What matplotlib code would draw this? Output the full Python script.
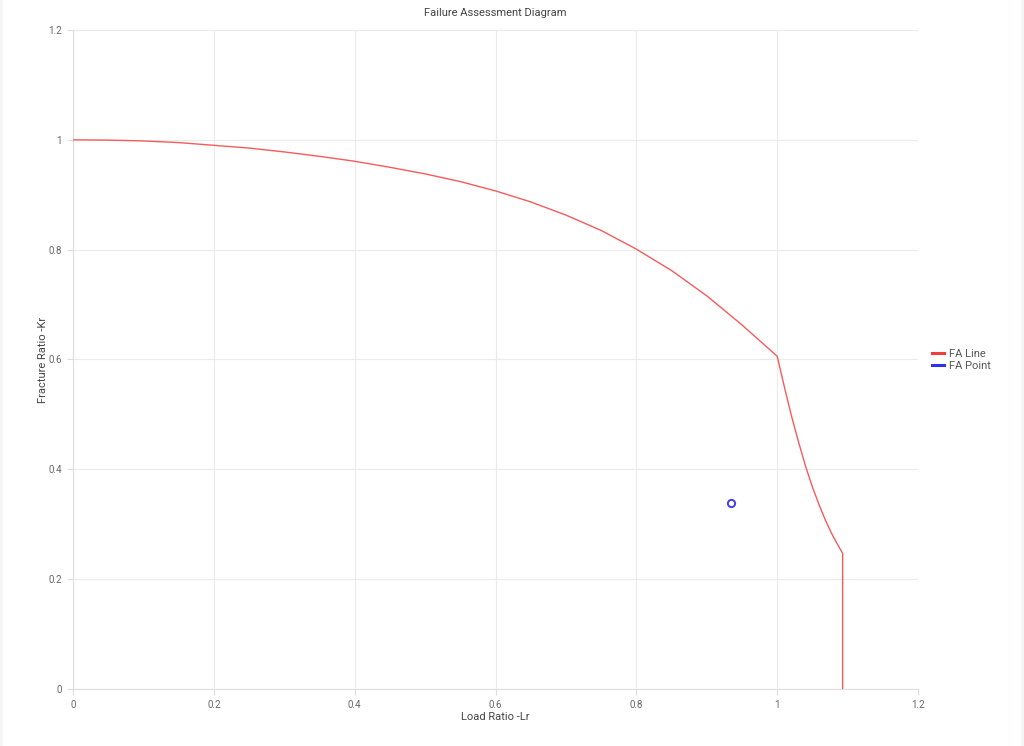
import matplotlib
matplotlib.use("Agg")
import matplotlib.pyplot as plt
from matplotlib.patches import Rectangle
from matplotlib.lines import Line2D

plt.rcParams['font.family'] = ['Roboto', 'DejaVu Sans']

# FA line (Lr, Kr)
loadRatio = [0.0, 0.05, 0.10, 0.15, 0.20, 0.25, 0.30, 0.35, 0.40, 0.45,
             0.50, 0.55, 0.60, 0.65, 0.70, 0.75, 0.80, 0.85, 0.90, 0.95,
             1.0, 1.011, 1.020, 1.029, 1.040, 1.050, 1.060, 1.068, 1.077, 1.085,
             1.093, 1.093]
fractureRatio = [1.000, 0.9995, 0.998, 0.995, 0.990, 0.985, 0.978, 0.970, 0.961, 0.950,
                 0.938, 0.924, 0.907, 0.887, 0.863, 0.835, 0.801, 0.762, 0.716, 0.663,
                 0.606, 0.546, 0.499, 0.456, 0.407, 0.368, 0.334, 0.309, 0.284, 0.265,
                 0.247, 0.0]

# Assessment point
pointLr = [0.934]
pointKr = [0.339]

xTicks = [0, 0.2, 0.4, 0.6, 0.8, 1, 1.2]
yTicks = [0, 0.2, 0.4, 0.6, 0.8, 1, 1.2]
tickLabels = ['0', '0.2', '0.4', '0.6', '0.8', '1', '1.2']

gridColor = '#ebebeb'
textColor = '#666666'

figure = plt.figure(figsize=(10.24, 7.46), dpi=100, facecolor='#f2f4f7')
# White card behind the chart
figure.patches.append(Rectangle((3 / 1024, 0), 1018 / 1024, 1, transform=figure.transFigure,
                                facecolor='white', edgecolor='none', zorder=-10))

axis = figure.add_axes([73 / 1024, 1 - 689 / 746, 845 / 1024, 659 / 746])
axis.set_zorder(1)
axis.set_facecolor('white')

axis.plot(loadRatio, fractureRatio, color='#f55b5b', lw=1.0, label='FA Line', zorder=3)
axis.plot(pointLr, pointKr, linestyle='none', marker='o', markersize=5.2,
          markerfacecolor='white', markeredgecolor='#3d3df2', markeredgewidth=1.4,
          label='FA Point', zorder=4)

axis.set_xlim(0, 1.2)
axis.set_ylim(0, 1.2)
axis.set_xticks(xTicks)
axis.set_yticks(yTicks)
axis.set_xticklabels(tickLabels)
axis.set_yticklabels(tickLabels)
axis.grid(True, color=gridColor, lw=0.8)
axis.set_axisbelow(True)
for side in ['top', 'right']:
    axis.spines[side].set_visible(False)
axis.spines['left'].set_color('#dddddd')
axis.spines['bottom'].set_color('#dddddd')
axis.tick_params(colors=textColor, labelsize=7, length=4, color='#dddddd', pad=4)

axis.set_xlabel('Load Ratio -Lr', fontsize=8, color='#444444', labelpad=1)
axis.set_ylabel('Fracture Ratio -Kr', fontsize=8, color='#444444', labelpad=0)
axis.set_title('Failure Assessment Diagram', fontsize=8, color='#444444', pad=10)

# Legend markers are short lines
handles = [Line2D([], [], color='#f03c3c', lw=2.2),
           Line2D([], [], color='#3030f0', lw=2.2)]
figure.legend(handles, ['FA Line', 'FA Point'], loc='center left',
              bbox_to_anchor=(0.900, 1 - 360 / 746), frameon=False, fontsize=8,
              handlelength=1.1, handletextpad=0.5, labelspacing=0.25,
              labelcolor='#555555')

figure.savefig('out.png', dpi=100, facecolor=figure.get_facecolor())
